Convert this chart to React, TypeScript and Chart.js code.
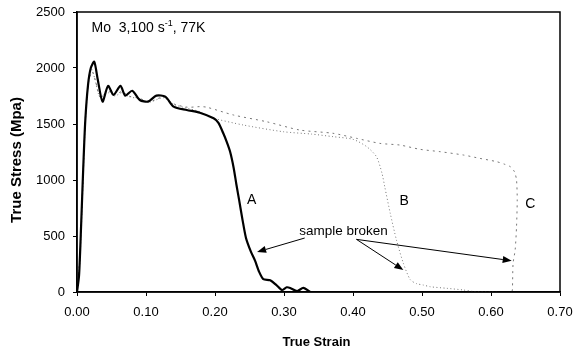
import { useEffect, useRef } from "react";
import { Chart, registerables } from "chart.js";
Chart.register(...registerables);

// ---- data ----
const strainA = [0.000, 0.003, 0.006, 0.009, 0.012, 0.016, 0.020, 0.025, 0.030, 0.037, 0.045, 0.053, 0.063, 0.070, 0.080, 0.091, 0.103, 0.115, 0.128, 0.140, 0.159, 0.178, 0.198, 0.205, 0.212, 0.217, 0.222, 0.227, 0.231, 0.235, 0.240, 0.245, 0.252, 0.258, 0.264, 0.270, 0.280, 0.289, 0.297, 0.304, 0.309, 0.319, 0.328, 0.338];
const stressA = [0, 150, 600, 1100, 1530, 1850, 2000, 2056, 1900, 1700, 1840, 1760, 1840, 1753, 1797, 1714, 1700, 1753, 1744, 1655, 1625, 1601, 1551, 1510, 1417, 1340, 1250, 1110, 960, 820, 640, 480, 360, 280, 180, 115, 105, 62, 18, 42, 36, 9, 36, 0];

const strainB = [0, 0.004, 0.008, 0.012, 0.017, 0.021, 0.026, 0.033, 0.040, 0.047, 0.055, 0.065, 0.075, 0.090, 0.105, 0.125, 0.140, 0.160, 0.178, 0.193, 0.241, 0.299, 0.340, 0.371, 0.400, 0.420, 0.434, 0.442, 0.446, 0.454, 0.463, 0.473, 0.483, 0.492, 0.502, 0.512, 0.536, 0.560, 0.574, 0.608];
const stressB = [0, 250, 850, 1500, 1900, 1990, 1900, 1740, 1760, 1780, 1750, 1780, 1745, 1725, 1695, 1735, 1675, 1640, 1610, 1560, 1491, 1431, 1410, 1387, 1363, 1297, 1208, 1060, 940, 702, 464, 256, 110, 75, 62, 47, 33, 18, 5, 0];

const strainC = [0, 0.004, 0.008, 0.012, 0.017, 0.022, 0.027, 0.033, 0.040, 0.047, 0.055, 0.065, 0.075, 0.090, 0.105, 0.125, 0.140, 0.160, 0.178, 0.188, 0.227, 0.275, 0.323, 0.371, 0.405, 0.439, 0.468, 0.497, 0.526, 0.560, 0.584, 0.608, 0.620, 0.628, 0.634, 0.637, 0.638, 0.637, 0.635, 0.632, 0.631, 0.630];
const stressC = [0, 300, 900, 1550, 1880, 1967, 1880, 1744, 1770, 1790, 1760, 1790, 1750, 1730, 1700, 1740, 1680, 1650, 1655, 1650, 1580, 1520, 1446, 1417, 1372, 1327, 1312, 1274, 1253, 1223, 1193, 1164, 1140, 1119, 1074, 1000, 821, 583, 375, 256, 18, 0];

const xTicks = [0, 0.1, 0.2, 0.3, 0.4, 0.5, 0.6, 0.7];
const yTicks = [0, 500, 1000, 1500, 2000, 2500];

const xTitle = "True Strain";
const yTitle = "True Stress (Mpa)";

const curveLabels = ["A", "B", "C"];
const curveLabelX = [0.253, 0.474, 0.657];
const curveLabelY = [821, 812, 786];

const noteText = "sample broken";
const noteX = 0.322;
const noteY = 545;
const arrowFromX = [0.330, 0.405, 0.405];
const arrowFromY = [482, 470, 470];
const arrowToX = [0.261, 0.473, 0.630];
const arrowToY = [357, 196, 279];

const titleMain = "Mo  3,100 s";
const titleSup = "-1";
const titleEnd = ", 77K";
const titleX = 0.021;
const titleY = 2321;

const FONT = "'Liberation Sans', Arial, sans-serif";

const pts = (xs: number[], ys: number[]) => xs.map((x, i) => ({ x, y: ys[i] }));

const annotPlugin = {
  id: "annot",
  afterDraw(chart: any) {
    const ctx = chart.ctx;
    const xs = chart.scales.x;
    const ys = chart.scales.y;
    const a = chart.chartArea;
    ctx.save();
    ctx.strokeStyle = "#000";
    ctx.lineWidth = 1.5;
    ctx.strokeRect(a.left, a.top, a.right - a.left, a.bottom - a.top);

    ctx.fillStyle = "#000";
    // axis titles
    ctx.textAlign = "center";
    ctx.textBaseline = "middle";
    ctx.font = `bold 13px ${FONT}`;
    ctx.fillText(xTitle, (a.left + a.right) / 2 - 2, a.bottom + 50);
    ctx.save();
    ctx.translate(a.left - 60, (a.top + a.bottom) / 2 + 8);
    ctx.rotate(-Math.PI / 2);
    ctx.font = `bold 15px ${FONT}`;
    ctx.fillText(yTitle, 0, 0);
    ctx.restore();

    let tx = xs.getPixelForValue(titleX);
    const ty = ys.getPixelForValue(titleY);
    ctx.textBaseline = "alphabetic";
    ctx.textAlign = "left";
    ctx.font = `14px ${FONT}`;
    ctx.fillText(titleMain, tx, ty);
    tx += ctx.measureText(titleMain).width;
    ctx.font = `9px ${FONT}`;
    ctx.fillText(titleSup, tx, ty - 6);
    tx += ctx.measureText(titleSup).width;
    ctx.font = `14px ${FONT}`;
    ctx.fillText(titleEnd, tx, ty);

    ctx.font = `14px ${FONT}`;
    ctx.textAlign = "center";
    ctx.textBaseline = "middle";
    curveLabels.forEach((t, i) => {
      ctx.fillText(t, xs.getPixelForValue(curveLabelX[i]), ys.getPixelForValue(curveLabelY[i]));
    });

    ctx.font = `13.5px ${FONT}`;
    ctx.textAlign = "left";
    ctx.fillText(noteText, xs.getPixelForValue(noteX), ys.getPixelForValue(noteY));

    ctx.lineWidth = 1;
    arrowFromX.forEach((fx, i) => {
      const x1 = xs.getPixelForValue(fx);
      const y1 = ys.getPixelForValue(arrowFromY[i]);
      const x2 = xs.getPixelForValue(arrowToX[i]);
      const y2 = ys.getPixelForValue(arrowToY[i]);
      const ang = Math.atan2(y2 - y1, x2 - x1);
      const L = 9, W = 3.5;
      const bx = x2 - L * Math.cos(ang);
      const by = y2 - L * Math.sin(ang);
      ctx.beginPath();
      ctx.moveTo(x1, y1);
      ctx.lineTo(bx, by);
      ctx.stroke();
      ctx.beginPath();
      ctx.moveTo(x2, y2);
      ctx.lineTo(bx + W * Math.sin(ang), by - W * Math.cos(ang));
      ctx.lineTo(bx - W * Math.sin(ang), by + W * Math.cos(ang));
      ctx.closePath();
      ctx.fill();
    });
    ctx.restore();
  },
};

export default function App() {
  const ref = useRef<HTMLCanvasElement>(null);
  useEffect(() => {
    document.body.style.margin = "0";
    const chart = new Chart(ref.current!, {
      type: "line",
      data: {
        datasets: [
          {
            data: pts(strainA, stressA),
            borderColor: "#000",
            borderWidth: 2.2,
            pointRadius: 0,
            tension: 0.25,
            fill: false,
          },
          {
            data: pts(strainB, stressB),
            borderColor: "#777",
            borderWidth: 1,
            borderDash: [1, 2.5],
            pointRadius: 0,
            tension: 0.25,
            fill: false,
          },
          {
            data: pts(strainC, stressC),
            borderColor: "#777",
            borderWidth: 1,
            borderDash: [2, 4],
            pointRadius: 0,
            tension: 0.25,
            fill: false,
          },
        ],
      },
      options: {
        responsive: false,
        animation: false,
        parsing: false as any,
        layout: { padding: { left: 8, top: 12, right: 14, bottom: 0 } },
        plugins: { legend: { display: false }, tooltip: { enabled: false }, title: { display: false } },
        scales: {
          x: {
            type: "linear",
            min: 0,
            max: 0.7,
            afterBuildTicks: (s: any) => {
              s.ticks = xTicks.map((v) => ({ value: v }));
            },
            afterFit: (s: any) => {
              s.height = 58;
              s.paddingLeft = 0;
              s.paddingRight = 0;
            },
            ticks: {
              color: "#000",
              font: { family: FONT, size: 13 },
              padding: 9,
              maxRotation: 0,
              autoSkip: false,
              callback: (v: any) => Number(v).toFixed(2),
            },
            grid: { display: true, drawOnChartArea: false, drawTicks: true, tickLength: 4, color: "#000" },
            border: { display: true, color: "#000", width: 1.5 },
            title: { display: false },
          },
          y: {
            type: "linear",
            min: 0,
            max: 2500,
            afterBuildTicks: (s: any) => {
              s.ticks = yTicks.map((v) => ({ value: v }));
            },
            afterFit: (s: any) => {
              s.width = 69;
              s.paddingTop = 0;
              s.paddingBottom = 0;
            },
            ticks: {
              color: "#000",
              font: { family: FONT, size: 13 },
              padding: 8,
              autoSkip: false,
              callback: (v: any) => String(v),
            },
            grid: { display: true, drawOnChartArea: false, drawTicks: true, tickLength: 4, color: "#000" },
            border: { display: true, color: "#000", width: 1.5 },
            title: { display: false },
          },
        },
      },
      plugins: [annotPlugin],
    });
    return () => chart.destroy();
  }, []);
  return <canvas ref={ref} width={574} height={350} style={{ display: "block" }} />;
}
